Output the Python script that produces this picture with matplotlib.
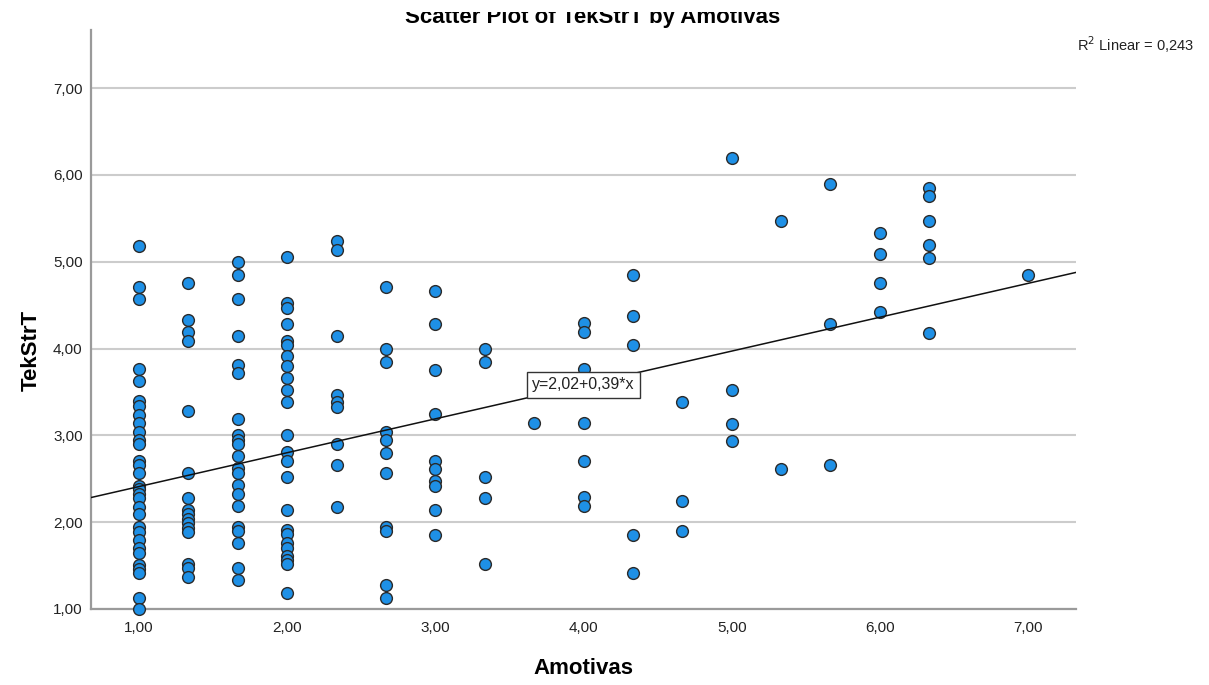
import numpy as np
import matplotlib
matplotlib.use("Agg")
import matplotlib.pyplot as plt
from matplotlib.ticker import FuncFormatter
from matplotlib.transforms import Bbox, TransformedBbox

plt.rcParams['font.family'] = ['Liberation Sans', 'DejaVu Sans']

# TekStrT scores grouped by Amotivas level
amotivas_levels = [1.00, 1.333, 1.667, 2.00, 2.333, 2.667, 3.00, 3.333, 3.667,
                   4.00, 4.333, 4.667, 5.00, 5.333, 5.667, 6.00, 6.333, 7.00]

tek_100 = [5.18, 4.71, 4.57, 3.76, 3.62, 3.39, 3.34, 3.23, 3.14, 3.04, 2.95, 2.90,
           2.71, 2.66, 2.57, 2.42, 2.38, 2.33, 2.28, 2.18, 2.09, 1.94, 1.89, 1.80,
           1.70, 1.65, 1.51, 1.46, 1.41, 1.13, 1.00]
tek_133 = [4.76, 4.33, 4.19, 4.09, 3.28, 2.57, 2.28, 2.14, 2.09, 2.04, 1.99, 1.93,
           1.89, 1.52, 1.47, 1.37]
tek_167 = [5.00, 4.85, 4.57, 4.14, 3.81, 3.72, 3.19, 3.00, 2.95, 2.90, 2.76, 2.62,
           2.57, 2.43, 2.33, 2.19, 1.95, 1.90, 1.76, 1.47, 1.33]
tek_200 = [5.05, 4.52, 4.47, 4.28, 4.09, 4.04, 3.91, 3.80, 3.66, 3.52, 3.38, 3.00,
           2.81, 2.71, 2.52, 2.14, 1.91, 1.86, 1.76, 1.70, 1.61, 1.57, 1.52, 1.18]
tek_233 = [5.24, 5.13, 4.14, 3.47, 3.38, 3.33, 2.90, 2.66, 2.18]
tek_267 = [4.71, 4.00, 3.85, 3.04, 2.95, 2.80, 2.57, 1.95, 1.90, 1.28, 1.13]
tek_300 = [4.66, 4.28, 3.75, 3.24, 2.71, 2.61, 2.47, 2.42, 2.14, 1.85]
tek_333 = [4.00, 3.85, 2.52, 2.28, 1.52]
tek_367 = [3.14]
tek_400 = [4.29, 4.19, 3.76, 3.14, 2.71, 2.29, 2.19]
tek_433 = [4.85, 4.38, 4.04, 1.85, 1.42]
tek_467 = [3.38, 2.24, 1.90]
tek_500 = [6.19, 3.52, 3.13, 2.94]
tek_533 = [5.47, 2.61]
tek_567 = [5.90, 4.28, 2.66]
tek_600 = [5.33, 5.09, 4.76, 4.42]
tek_633 = [5.85, 5.76, 5.47, 5.19, 5.04, 4.18]
tek_700 = [4.85]

groups = [tek_100, tek_133, tek_167, tek_200, tek_233, tek_267, tek_300, tek_333,
          tek_367, tek_400, tek_433, tek_467, tek_500, tek_533, tek_567, tek_600,
          tek_633, tek_700]

# fit line as reported
intercept = 2.02
slope = 0.39
r_squared = 0.243

x = np.concatenate([[lvl] * len(g) for lvl, g in zip(amotivas_levels, groups)])
y = np.concatenate(groups)

def comma(v, pos=None):
    return f"{v:.2f}".replace('.', ',')

W, H = 1209, 685
fig = plt.figure(figsize=(W / 100, H / 100), dpi=100)
ax = fig.add_axes([91 / W, 1 - 609 / H, (1076 - 91) / W, (609 - 30) / H])

ax.set_xlim(0.676, 7.324)
ax.set_ylim(1.0, 7.668)

ax.set_yticks([1, 2, 3, 4, 5, 6, 7])
ax.set_xticks([1, 2, 3, 4, 5, 6, 7])
ax.xaxis.set_major_formatter(FuncFormatter(comma))
ax.yaxis.set_major_formatter(FuncFormatter(comma))
ax.tick_params(length=0, labelsize=11, colors='#222222')
ax.tick_params(axis='x', pad=9)
ax.tick_params(axis='y', pad=6)

ax.yaxis.grid(True, color='#cccccc', linewidth=1.5)
ax.set_axisbelow(True)

for side in ['top', 'right']:
    ax.spines[side].set_visible(False)
for side in ['left', 'bottom']:
    ax.spines[side].set_color('#9a9a9a')
    ax.spines[side].set_linewidth(1.6)

ax.scatter(x, y, s=72, c='#1e90e6', edgecolors='#2a2a2a', linewidths=1.0,
           zorder=3, clip_on=False)

xs = np.array(ax.get_xlim())
ax.plot(xs, intercept + slope * xs, color='#111111', linewidth=1.1, zorder=4)

ax.text(4.0, intercept + slope * 4.0,
        f"y={comma(intercept)}+{comma(slope)}*x",
        ha='center', va='center', fontsize=11.5, color='#222222', zorder=5,
        bbox=dict(boxstyle='square,pad=0.35', facecolor='white',
                  edgecolor='#333333', linewidth=1.0))

ax.set_xlabel('Amotivas', fontsize=16, fontweight='bold', va='center')
ax.xaxis.set_label_coords(0.5, (609 - 669) / 579)
ax.set_ylabel('TekStrT', fontsize=16, fontweight='bold', va='center')
ax.yaxis.set_label_coords((31 - 91) / 985, (609 - 350) / 579)

fig.text(1077 / W, 1 - 45 / H, f"R$^2$ Linear = {r_squared:.3f}".replace('.', ','),
         ha='left', va='center', fontsize=10.5, color='#222222')

# title sits partly above the top edge of the image
title = fig.text(593 / W, 1 - 22.5 / H, 'Scatter Plot of TekStrT by Amotivas',
                 ha='center', va='baseline', fontsize=16, fontweight='bold')
title.set_clip_box(TransformedBbox(Bbox([[0, 0], [1, 1 - 12 / H]]), fig.transFigure))
title.set_clip_on(True)

fig.savefig('out.png', dpi=100)
